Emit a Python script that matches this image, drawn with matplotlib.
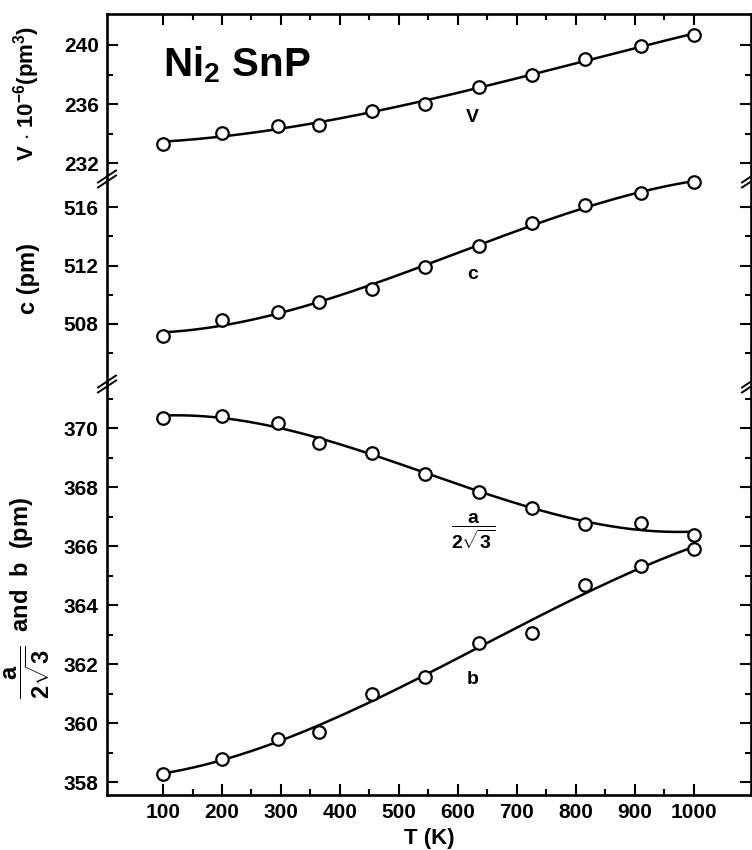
import numpy as np
import matplotlib
matplotlib.use('Agg')
import matplotlib.pyplot as plt
from matplotlib.lines import Line2D
from matplotlib.ticker import FixedLocator

plt.rcParams['font.family'] = ['Liberation Sans', 'DejaVu Sans']
plt.rcParams['font.weight'] = 'bold'
plt.rcParams['axes.labelweight'] = 'bold'
plt.rcParams['mathtext.fontset'] = 'custom'
plt.rcParams['mathtext.rm'] = 'Liberation Sans:bold'
plt.rcParams['mathtext.it'] = 'Liberation Sans:bold'
plt.rcParams['mathtext.bf'] = 'Liberation Sans:bold'
plt.rcParams['mathtext.sf'] = 'Liberation Sans:bold'

# ---- data ----
T = [100, 200, 295, 365, 455, 545, 635, 725, 815, 910, 1000]
V = [233.29, 234.03, 234.50, 234.56, 235.50, 236.00, 237.17, 237.97, 239.05, 239.95, 240.68]
c = [507.18, 508.27, 508.84, 509.53, 510.40, 511.88, 513.35, 514.90, 516.14, 516.98, 517.71]
a_red = [370.36, 370.42, 370.16, 369.48, 369.16, 368.44, 367.84, 367.30, 366.74, 366.79, 366.37]
b = [358.27, 358.77, 359.45, 359.71, 360.97, 361.57, 362.71, 363.05, 364.68, 365.31, 365.91]

x_major = [100, 200, 300, 400, 500, 600, 700, 800, 900, 1000]
x_minor = [150, 250, 350, 450, 550, 650, 750, 850, 950]
v_major = [232, 236, 240]
v_minor = [234, 238]
c_major = [508, 512, 516]
c_minor = [506, 510, 514]
ab_major = [358, 360, 362, 364, 366, 368, 370]
ab_minor = [359, 361, 363, 365, 367, 369, 371]

W, H = 752, 850
fig = plt.figure(figsize=(W / 100, H / 100), dpi=100)

left_px, right_px = 107, 751
bounds = [(14, 179), (179, 383), (383, 795)]  # top/bottom pixel rows of panels
axes = []
for (t, bt) in bounds:
    ax = fig.add_axes([left_px / W, 1 - bt / H, (right_px - left_px) / W, (bt - t) / H])
    axes.append(ax)
ax_v, ax_c, ax_ab = axes

ylims = [(230.92, 242.10), (503.96, 517.92), (357.56, 371.53)]
majors = [v_major, c_major, ab_major]
minors = [v_minor, c_minor, ab_minor]

lw = 1.9
for ax, yl, mj, mn in zip(axes, ylims, majors, minors):
    ax.set_xlim(5, 1097)
    ax.set_ylim(*yl)
    ax.yaxis.set_major_locator(FixedLocator(mj))
    ax.yaxis.set_minor_locator(FixedLocator(mn))
    ax.xaxis.set_major_locator(FixedLocator(x_major))
    ax.xaxis.set_minor_locator(FixedLocator(x_minor))
    for s in ax.spines.values():
        s.set_linewidth(lw)
    ax.tick_params(axis='y', which='both', direction='in', left=True, right=True,
                   width=1.5, labelsize=15, pad=6)
    ax.tick_params(axis='y', which='major', length=8)
    ax.tick_params(axis='y', which='minor', length=4.5)
    ax.tick_params(axis='x', which='both', direction='in', width=1.5, labelsize=15, pad=6)
    ax.tick_params(axis='x', which='major', length=8)
    ax.tick_params(axis='x', which='minor', length=4.5)

ax_v.spines['bottom'].set_visible(False)
ax_c.spines['top'].set_visible(False)
ax_c.spines['bottom'].set_visible(False)
ax_ab.spines['top'].set_visible(False)

ax_v.tick_params(axis='x', which='both', top=True, bottom=False, labelbottom=False)
ax_c.tick_params(axis='x', which='both', top=False, bottom=False, labelbottom=False)
ax_ab.tick_params(axis='x', which='both', top=False, bottom=True)

# curves (smooth fits) and data points
xs = np.linspace(100, 1000, 300)
for ax, ys in [(ax_v, V), (ax_c, c), (ax_ab, a_red), (ax_ab, b)]:
    p = np.polyfit(T, ys, 3)
    ax.plot(xs, np.polyval(p, xs), color='black', lw=1.8, zorder=2, clip_on=False)
    ax.plot(T, ys, 'o', ms=9, mfc='white', mec='black', mew=1.6, zorder=3, clip_on=False)

# in-plot labels
ax_v.text(100, 237.9, r'Ni$_{2}$ SnP', fontsize=29, ha='left', va='baseline')
ax_v.text(625, 235.1, 'V', fontsize=14, ha='center', va='center')
ax_c.text(625, 511.36, 'c', fontsize=14, ha='center', va='center')
ax_ab.text(625, 366.5, r'$\dfrac{a}{2\sqrt{3}}$', fontsize=14, ha='center', va='center')
ax_ab.text(625, 361.46, 'b', fontsize=14, ha='center', va='center')

ax_ab.set_xlabel('T (K)', fontsize=16, fontweight='bold', labelpad=4)

# y labels
fig.text(27 / W, 1 - 93 / H, r'V $\cdot$ 10$^{-6}$(pm$^{3}$)', rotation=90,
         ha='center', va='center', fontsize=16)
fig.text(28 / W, 1 - 279 / H, 'c (pm)', rotation=90, ha='center', va='center', fontsize=17)
fig.text(27 / W, 1 - 598 / H, r'$\dfrac{a}{2\sqrt{3}}$  and  b  (pm)', rotation=90,
         ha='center', va='center', fontsize=17)

# axis break marks
for ypx in (179, 384):
    for xpx in (left_px, right_px):
        for off in (-2.5, 2.5):
            x0, y0 = xpx - 9, ypx + 6 + off
            x1, y1 = xpx + 9, ypx - 6 + off
            fig.add_artist(Line2D([x0 / W, x1 / W], [1 - y0 / H, 1 - y1 / H],
                                  transform=fig.transFigure, color='black', lw=1.4,
                                  clip_on=False))

fig.savefig('out.png', dpi=100)
